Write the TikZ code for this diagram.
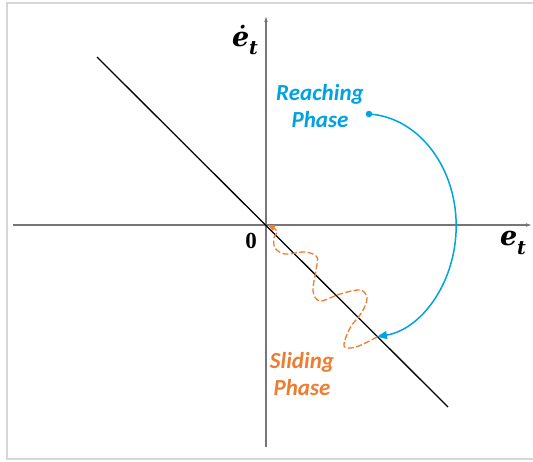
\documentclass[tikz,border=0pt]{standalone}
\usepackage{fontspec}
\newfontfamily\calib{Carlito}
\newfontfamily\lblfont{DejaVu Serif}
\newfontfamily\zerofont{Liberation Serif}
\usetikzlibrary{arrows.meta}
\definecolor{reachc}{RGB}{0,163,224}
\definecolor{slidec}{RGB}{237,125,49}
\definecolor{axisc}{RGB}{118,118,118}
\definecolor{framec}{RGB}{214,214,214}
\newcommand{\subt}{\raisebox{-0.32em}{\fontsize{19}{21}\selectfont t}}
\tikzset{
  axisline/.style={draw=axisc, line width=2pt, -{Stealth[length=5pt,width=3.5pt]}},
  diagline/.style={draw=black, line width=1.3pt},
  mathlbl/.style={inner sep=0pt, font=\lblfont\bfseries\itshape\fontsize{27}{32}\selectfont},
  zerolbl/.style={inner sep=0pt, font=\zerofont\bfseries\fontsize{23}{28}\selectfont},
  phasetxt/.style={inner sep=0pt, align=center, font=\calib\bfseries\itshape\fontsize{23}{27}\selectfont},
  reachpath/.style={draw=reachc, line width=1.5pt, -{Triangle[length=10pt,width=8pt]}},
  slidepath/.style={draw=slidec, line width=1.3pt, dash pattern=on 6pt off 2.5pt, -{Triangle[length=7pt,width=6pt]}},
}
\begin{document}
\begin{tikzpicture}[x=1pt,y=-1pt]
\useasboundingbox (0,0) rectangle (533,461);
\draw[framec, line width=1.5pt] (600,3) -- (7,3) -- (7,459) -- (600,459);
% axes
\coordinate (xl) at (13,225);
\coordinate (xr) at (531,225);
\coordinate (yb) at (266,447);
\coordinate (yt) at (266,17);
\draw[axisline] (xl) -- (xr);
\draw[axisline] (yb) -- (yt);
% sliding surface
\coordinate (d1) at (97,57);
\coordinate (d2) at (448,407);
\draw[diagline] (d1) -- (d2);
% labels
\node[mathlbl] (edot) at (245,40) {ė\subt};
\node[mathlbl] (et) at (513,243) {e\subt};
\node[zerolbl] (zero) at (251,241) {0};
\node[phasetxt, text=reachc] (reach) at (320,106) {Reaching\\Phase};
\node[phasetxt, text=slidec] (slide) at (302,374) {Sliding\\Phase};
% reaching phase
\node[circle, fill=reachc, inner sep=0pt, minimum size=6.5pt] (dot) at (369,114) {};
\draw[reachpath] (dot.center) arc[start angle=-87, end angle=82, x radius=92, y radius=112];
% sliding phase
\coordinate (hit) at (377,337);
\coordinate (orig) at (268,225);
\draw[slidepath] plot[smooth, tension=0.55] coordinates {(hit) (356,347) (344,346) (350,328) (362,312) (367,298) (360,290) (340,294) (320,301) (313,291) (316,270) (317,257) (305,252) (285,254) (275,248) (274,238) (277,231) (orig)};
\end{tikzpicture}
\end{document}
